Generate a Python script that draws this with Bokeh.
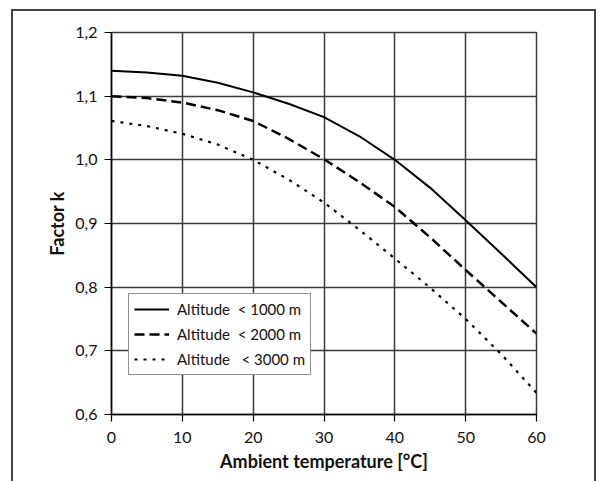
from bokeh.plotting import figure
from bokeh.models import Range1d, FixedTicker, Legend, LegendItem, InlineStyleSheet
from bokeh.embed import file_html
from bokeh.resources import INLINE

# ---- data ----
temperature = [0, 5, 10, 15, 20, 25, 30, 35, 40, 45, 50, 55, 60]
k_1000 = [1.140, 1.137, 1.132, 1.121, 1.106, 1.088, 1.067, 1.037, 1.000, 0.956, 0.905, 0.853, 0.800]
k_2000 = [1.100, 1.097, 1.090, 1.078, 1.061, 1.033, 1.001, 0.965, 0.926, 0.878, 0.827, 0.777, 0.727]
k_3000 = [1.061, 1.053, 1.041, 1.024, 1.000, 0.969, 0.933, 0.890, 0.845, 0.799, 0.750, 0.695, 0.634]
series_labels = ["Altitude\u00a0\u00a0< 1000 m", "Altitude\u00a0\u00a0< 2000 m", "Altitude\u00a0\u00a0\u00a0< 3000 m"]
x_ticks = [0, 10, 20, 30, 40, 50, 60]
y_ticks = [0.6, 0.7, 0.8, 0.9, 1.0, 1.1, 1.2]
y_tick_labels = ["0,6", "0,7", "0,8", "0,9", "1,0", "1,1", "1,2"]

FONT = "Lato"
GRID = "#3a3a3a"

p = figure(width=600, height=481, output_backend="svg", toolbar_location=None,
           x_range=Range1d(0, 60), y_range=Range1d(0.6, 1.2),
           min_border_left=111, min_border_right=64, min_border_top=32, min_border_bottom=67)

p.background_fill_color = "white"
p.border_fill_color = "white"
p.outline_line_color = GRID
p.outline_line_width = 1.5

for g in (p.xgrid, p.ygrid):
    g.grid_line_color = GRID
    g.grid_line_width = 1.5
p.xgrid.ticker = FixedTicker(ticks=x_ticks)
p.ygrid.ticker = FixedTicker(ticks=y_ticks)

p.xaxis.ticker = FixedTicker(ticks=x_ticks)
p.yaxis.ticker = FixedTicker(ticks=y_ticks)
p.yaxis.major_label_overrides = {t: s for t, s in zip(y_ticks, y_tick_labels)}

for ax in (p.xaxis, p.yaxis):
    ax.axis_line_color = "black"
    ax.axis_line_width = 1.5
    ax.major_tick_line_color = "black"
    ax.major_tick_line_width = 1.2
    ax.major_tick_out = 7
    ax.major_tick_in = 0
    ax.minor_tick_line_color = None
    ax.major_label_text_font = FONT
    ax.major_label_text_font_size = "16px"
    ax.major_label_text_color = "#111111"
    ax.axis_label_text_font = FONT
    ax.axis_label_text_font_size = "18px"
    ax.axis_label_text_font_style = "bold"
    ax.axis_label_text_color = "#111111"

p.xaxis.axis_label = "Ambient temperature [°C]"
p.yaxis.axis_label = "Factor k"
p.xaxis.major_label_standoff = 10
p.xaxis.axis_label_standoff = 4
p.yaxis.major_label_standoff = 7
p.yaxis.axis_label_standoff = 4

r1 = p.line(temperature, k_1000, line_color="black", line_width=2)
r2 = p.line(temperature, k_2000, line_color="black", line_width=2.5, line_dash="10 5")
r3 = p.line(temperature, k_3000, line_color="black", line_width=2.2, line_dash="3 6")

legend = Legend(items=[LegendItem(label=series_labels[0], renderers=[r1]),
                       LegendItem(label=series_labels[1], renderers=[r2]),
                       LegendItem(label=series_labels[2], renderers=[r3])],
                location=(17, 39), orientation="vertical")
legend.label_text_font = FONT
legend.label_text_font_size = "15px"
legend.label_text_color = "#111111"
legend.glyph_width = 35
legend.glyph_height = 20
legend.label_height = 20
legend.label_standoff = 8
legend.spacing = 5
legend.padding = 5
legend.margin = 0
legend.border_line_color = "#222222"
legend.border_line_width = 1
legend.background_fill_color = "white"
legend.background_fill_alpha = 1
p.add_layout(legend)

# outer frame around the whole chart (open at the bottom, as in the picture)
p.stylesheets = [InlineStyleSheet(css="""
:host::after {
  content: "";
  position: absolute;
  left: 11px;
  top: 8.5px;
  width: 585px;
  height: 472.5px;
  border: 2px solid #444444;
  border-bottom: none;
  box-sizing: border-box;
  pointer-events: none;
  z-index: 10;
}
""")]

open("out.html", "w").write(file_html(p, INLINE))
